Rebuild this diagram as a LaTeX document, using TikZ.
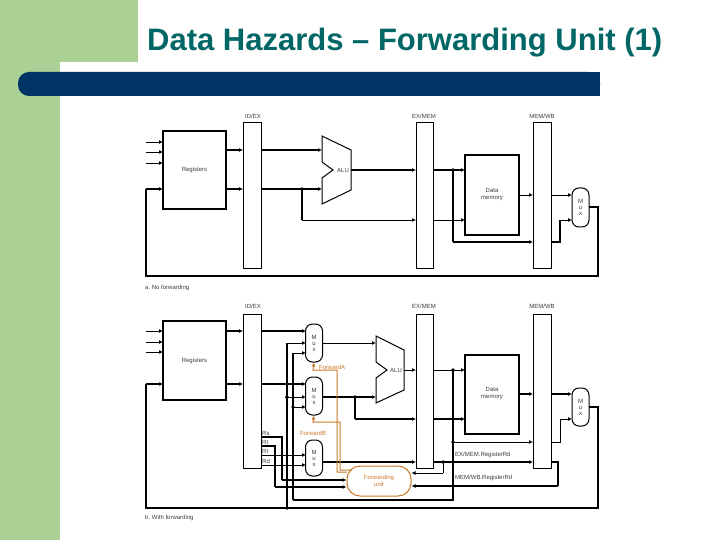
\documentclass[tikz,border=0pt]{standalone}
\usepackage{fontspec}
\setmainfont{Liberation Sans}
\usetikzlibrary{arrows.meta}
\definecolor{lgreen}{RGB}{170,208,150}
\definecolor{navy}{RGB}{0,51,102}
\definecolor{teal1}{RGB}{0,102,102}
\definecolor{fwd}{RGB}{200,120,40}
\definecolor{txtg}{RGB}{60,60,60}
\tikzset{
 blk/.style={draw,line width=1.2pt,fill=white},
 preg/.style={draw,line width=1pt,fill=white},
 muxbox/.style={draw,line width=1pt,fill=white,rounded corners=7pt,minimum width=17pt,align=center,inner sep=0pt,font=\fontsize{6}{6}\selectfont,text=txtg},
 lab/.style={font=\fontsize{6}{7}\selectfont,text=txtg,inner sep=1pt},
 thk/.style={line width=1.5pt,-{Latex[length=4pt,width=4pt]}},
 thn/.style={line width=0.8pt,-{Latex[length=4pt,width=4pt]}},
 thkl/.style={line width=1.5pt},
 thnl/.style={line width=0.8pt},
 fw/.style={draw=fwd,line width=1pt},
 dot/.style={circle,fill,inner sep=1.3pt},
}
\begin{document}
\begin{tikzpicture}[x=1pt,y=-1pt]
\useasboundingbox (0,0) rectangle (720,540);
\fill[white] (0,0) rectangle (720,540);
\fill[lgreen] (0,0) rectangle (60,540);
\fill[lgreen] (60,0) rectangle (138,62);
\fill[white] (60,62) rectangle (80,70);
\node[anchor=west,font=\fontsize{31}{34}\selectfont\bfseries,text=teal1,inner sep=0pt] (title) at (147,43) {Data Hazards – Forwarding Unit (1)};
\fill[navy,rounded corners=11pt] (18,72) rectangle (600,96);
\fill[navy] (40,72) rectangle (600,96);

% ---------- Panel a ----------
\node[lab] (la1) at (253,116) {ID/EX};
\node[lab] (la2) at (424,116) {EX/MEM};
\node[lab] (la3) at (542,116) {MEM/WB};
\draw[blk] (163,131) rectangle (226,209); \node[lab] (rega) at (194.5,170) {Registers};
\draw[preg] (243,123) rectangle (261,268);
\draw[preg] (416,123) rectangle (433,268);
\draw[preg] (533,123) rectangle (551,268);
\draw[blk] (465,155) rectangle (519,235); \node[lab,align=center] (dma) at (492,195) {Data\\memory};
\draw[line width=1pt,fill=white] (322,136)--(351,150)--(351,190)--(322,204)--(322,178)--(333,170)--(322,162)--cycle;
\node[lab] (alua) at (343,170) {ALU};
\node[muxbox,minimum height=39pt] (muxa) at (580.5,207.5) {M\\u\\x};
\foreach \y in {142,152,163} \draw[thn] (146,\y)--(163,\y);
\draw[thk] (226,150)--(243,150); \draw[thk] (226,189)--(243,189);
\draw[thk] (261,150)--(322,150); \draw[thk] (261,189)--(322,189);
\draw[thkl] (302,189)--(302,220); \draw[thn] (302,220)--(416,220); \node[dot] at (302,189){};
\draw[thk] (351,170)--(416,170);
\draw[thk] (433,170)--(465,170); \node[dot] at (453,170){};
\draw[thkl] (453,170)--(453,242); \draw[thk] (453,242)--(533,242);
\draw[thn] (433,220)--(465,220);
\draw[thn] (519,195)--(533,195);
\draw[thn] (551,195)--(572,195);
\draw[thkl] (551,242)--(560,242)--(560,220); \draw[thn] (560,220)--(572,220);
\draw[thkl] (589,207)--(598,207)--(598,276)--(146,276)--(146,189); \draw[thk] (146,189)--(163,189);
\node[lab,anchor=west] (capa) at (144,288) {a.\ No forwarding};

% ---------- Panel b ----------
\node[lab] (lb1) at (253,306) {ID/EX};
\node[lab] (lb2) at (424,306) {EX/MEM};
\node[lab] (lb3) at (542,306) {MEM/WB};
\draw[blk] (163,321) rectangle (226,400); \node[lab] (regb) at (194.5,361) {Registers};
\draw[preg] (243,314) rectangle (261,468);
\draw[preg] (416,314) rectangle (433,468);
\draw[preg] (533,314) rectangle (551,468);
\draw[blk] (465,355) rectangle (519,434); \node[lab,align=center] (dmb) at (492,394) {Data\\memory};
\draw[line width=1pt,fill=white] (376,336)--(404,350)--(404,390)--(376,403)--(376,378)--(387,370)--(376,362)--cycle;
\node[lab] (alub) at (396,370) {ALU};
\node[muxbox,minimum height=38pt] (mA) at (314,343) {M\\u\\x};
\node[muxbox,minimum height=38pt] (mB) at (314,396) {M\\u\\x};
\node[muxbox,minimum height=36pt] (mC) at (314,458) {M\\u\\x};
\node[muxbox,minimum height=38pt] (mR) at (580.5,407) {M\\u\\x};
\node[draw=fwd,line width=1pt,fill=white,rounded corners=13pt,minimum width=64pt,minimum height=30pt,align=center,font=\fontsize{6}{7}\selectfont,text=fwd] (fu) at (379,481) {Forwarding\\unit};
\foreach \y in {331,342,352} \draw[thn] (146,\y)--(163,\y);
\draw[thk] (226,331)--(243,331); \draw[thk] (226,384)--(243,384);
\draw[thk] (261,331)--(306,331); \draw[thk] (261,384)--(306,384);
% forwarded values
\draw[thkl] (287,508)--(287,343); \draw[thn] (287,343)--(306,343);
\draw[thn] (285,397)--(306,397);
\draw[thkl] (293,500)--(293,353); \draw[thn] (293,353)--(306,353);
\draw[thn] (293,407)--(306,407);
\node[dot] at (287,397){}; \node[dot] at (293,407){};
\draw[thn] (322,343)--(376,343);
\draw[thk] (322,397)--(376,397); \node[dot] at (355,397){};
\draw[thkl] (355,397)--(355,419); \draw[thk] (355,419)--(416,419);
\draw[thn] (404,370)--(416,370);
\draw[thn] (433,370)--(465,370); \node[dot] at (453,370){};
\draw[thkl] (453,370)--(453,500)--(293,500);
\node[dot] at (453,442){}; \draw[thn] (453,442)--(533,442);
\draw[thk] (433,419)--(465,419);
\draw[thk] (519,394)--(533,394);
\draw[thk] (551,394)--(572,394);
\draw[thnl] (551,442)--(560,442)--(560,419); \draw[thn] (560,419)--(572,419);
\draw[thkl] (589,407)--(598,407)--(598,508)--(146,508)--(146,384); \draw[thk] (146,384)--(163,384);
\node[dot] at (287,508){};
% register fields
\node[lab,anchor=south west] (rs) at (261,437) {Rs};
\node[lab,anchor=south west] (rt1) at (261,446) {Rt};
\node[lab,anchor=south west] (rt2) at (261,455) {Rt};
\node[lab,anchor=south west] (rd) at (261,465) {Rd};
\draw[thkl] (261,437)--(282,437)--(282,480); \draw[thk] (282,480)--(fu.west|-0,480);
\draw[thkl] (261,446)--(275,446)--(275,487); \draw[thk] (275,487)--(fu.west|-0,487);
\draw[thn] (261,455)--(306,455);
\draw[thn] (261,465)--(306,465);
\draw[thk] (322,462)--(416,462);
\draw[thk] (433,462)--(533,462); \node[dot] at (443,462){};
\draw[thnl] (443,462)--(443,473); \draw[thn] (443,473)--(fu.east|-0,473);
\draw[thkl] (551,462)--(558,462)--(558,486); \draw[thk] (558,486)--(fu.east|-0,486);
\node[lab,anchor=west] (exl) at (454,455) {EX/MEM.RegisterRd};
\node[lab,anchor=west] (mwl) at (454,478) {MEM/WB.RegisterRd};
% forward controls
\draw[fw,-{Latex[length=4pt,width=4pt]}] (fu.west|-0,472)--(337,472)--(337,370)--(313,370)--(mA.south);
\draw[fw,-{Latex[length=4pt,width=4pt]}] (352,470)--(340,470)--(340,422)--(313,422)--(mB.south);
\node[lab,text=fwd,anchor=west] (fa) at (318,367) {ForwardA};
\node[lab,text=fwd] (fb) at (313,433) {ForwardB};
\node[lab,anchor=west] (capb) at (144,518) {b.\ With forwarding};
\end{tikzpicture}
\end{document}
